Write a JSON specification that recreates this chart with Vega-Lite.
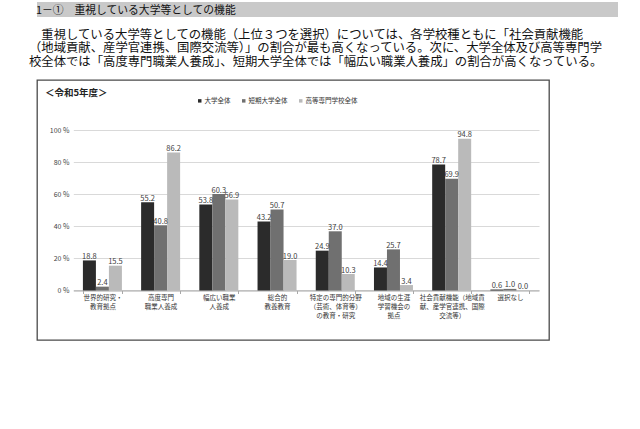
{
  "$schema": "https://vega.github.io/schema/vega-lite/v6.json",
  "padding": {"left": 29, "top": 2, "right": 4, "bottom": 4},
  "bounds": "flush",
  "spacing": 11,
  "config": {
    "font": "Noto Sans CJK JP",
    "view": {"stroke": null}
  },
  "resolve": {"scale": {"x": "independent", "y": "independent", "color": "independent"}},
  "vconcat": [
    {
      "width": 581,
      "height": 15,
      "view": {"fill": "#c9c9c9", "stroke": null},
      "data": {"values": [{"t": "1－①　重視している大学等としての機能"}]},
      "mark": {"type": "text", "align": "left", "baseline": "middle", "fontSize": 10.8, "color": "#111111", "dx": -1},
      "encoding": {
        "text": {"field": "t"},
        "x": {"datum": 0, "type": "quantitative", "scale": {"domain": [0, 1]}, "axis": null},
        "y": {"datum": 0.42, "type": "quantitative", "scale": {"domain": [0, 1]}, "axis": null}
      }
    },
    {
      "width": 575,
      "height": 40.5,
      "data": {"values": [
        {"line": 1, "t": "​　重視している大学等としての機能（上位３つを選択）については、各学校種ともに「社会貢献機能"},
        {"line": 2, "t": "（地域貢献、産学官連携、国際交流等）」の割合が最も高くなっている。次に、大学全体及び高等専門学"},
        {"line": 3, "t": "校全体では「高度専門職業人養成」、短期大学全体では「幅広い職業人養成」の割合が高くなっている。"}
      ]},
      "mark": {"type": "text", "align": "left", "baseline": "middle", "fontSize": 12.35, "color": "#111111", "dx": -8},
      "encoding": {
        "text": {"field": "t"},
        "x": {"datum": 0, "type": "quantitative", "scale": {"domain": [0, 1]}, "axis": null},
        "y": {"field": "line", "type": "ordinal", "scale": {"type": "point", "padding": 0.5}, "axis": null}
      }
    },
    {
      "width": 512,
      "height": 260,
      "view": {"stroke": "#4a4a4a", "strokeWidth": 1.3},
      "title": {"text": "＜令和5年度＞", "anchor": "start", "frame": "group", "offset": -17, "dx": 8, "fontSize": 9.5, "fontWeight": "bold", "color": "#222222"},
      "data": {"values": [
        {"cat": "世界的研究・\n教育拠点", "series": "大学全体", "value": 18.8},
        {"cat": "世界的研究・\n教育拠点", "series": "短期大学全体", "value": 2.4},
        {"cat": "世界的研究・\n教育拠点", "series": "高等専門学校全体", "value": 15.5},
        {"cat": "高度専門\n職業人養成", "series": "大学全体", "value": 55.2},
        {"cat": "高度専門\n職業人養成", "series": "短期大学全体", "value": 40.8},
        {"cat": "高度専門\n職業人養成", "series": "高等専門学校全体", "value": 86.2},
        {"cat": "幅広い職業\n人養成", "series": "大学全体", "value": 53.8},
        {"cat": "幅広い職業\n人養成", "series": "短期大学全体", "value": 60.3},
        {"cat": "幅広い職業\n人養成", "series": "高等専門学校全体", "value": 56.9},
        {"cat": "総合的\n教養教育", "series": "大学全体", "value": 43.2},
        {"cat": "総合的\n教養教育", "series": "短期大学全体", "value": 50.7},
        {"cat": "総合的\n教養教育", "series": "高等専門学校全体", "value": 19.0},
        {"cat": "特定の専門的分野\n（芸術、体育等）\nの教育・研究", "series": "大学全体", "value": 24.9},
        {"cat": "特定の専門的分野\n（芸術、体育等）\nの教育・研究", "series": "短期大学全体", "value": 37.0},
        {"cat": "特定の専門的分野\n（芸術、体育等）\nの教育・研究", "series": "高等専門学校全体", "value": 10.3},
        {"cat": "地域の生涯\n学習機会の\n拠点", "series": "大学全体", "value": 14.4},
        {"cat": "地域の生涯\n学習機会の\n拠点", "series": "短期大学全体", "value": 25.7},
        {"cat": "地域の生涯\n学習機会の\n拠点", "series": "高等専門学校全体", "value": 3.4},
        {"cat": "社会貢献機能（地域貢\n献、産学官連携、国際\n交流等）", "series": "大学全体", "value": 78.7},
        {"cat": "社会貢献機能（地域貢\n献、産学官連携、国際\n交流等）", "series": "短期大学全体", "value": 69.9},
        {"cat": "社会貢献機能（地域貢\n献、産学官連携、国際\n交流等）", "series": "高等専門学校全体", "value": 94.8},
        {"cat": "選択なし", "series": "大学全体", "value": 0.6},
        {"cat": "選択なし", "series": "短期大学全体", "value": 1.0},
        {"cat": "選択なし", "series": "高等専門学校全体", "value": 0.0}
      ]},
      "encoding": {
        "x": {
          "field": "cat", "type": "nominal", "sort": null,
          "scale": {"range": [36.3, 502], "paddingInner": 0.33, "paddingOuter": 0.165},
          "axis": {
            "orient": "bottom", "offset": -49.5, "title": null, "labelAngle": 0,
            "labelExpr": "split(datum.label, '\\n')",
            "labelFontSize": 6.5, "labelLineHeight": 9, "labelColor": "#333333",
            "labelPadding": 1, "labelLimit": 300, "labelOverlap": false, "labelBound": false,
            "domainColor": "#a8a8a8", "domainWidth": 1,
            "tickColor": "#a8a8a8", "tickSize": 3, "tickBand": "extent", "grid": false
          }
        },
        "y": {
          "field": "value", "type": "quantitative",
          "scale": {"domain": [-30.94, 131.56], "nice": false, "zero": false},
          "axis": {
            "orient": "left", "offset": -36, "title": null,
            "values": [0, 20, 40, 60, 80, 100],
            "labelExpr": "datum.value + ' %'",
            "labelFontSize": 7, "labelColor": "#444444", "labelPadding": 4,
            "ticks": false, "tickSize": 0, "domain": false,
            "grid": true, "gridColor": "#d9d9d9", "gridWidth": 1
          }
        }
      },
      "layer": [
        {
          "mark": {"type": "bar"},
          "encoding": {
            "y2": {"datum": 0},
            "xOffset": {"field": "series", "type": "nominal", "sort": ["大学全体", "短期大学全体", "高等専門学校全体"], "scale": {"paddingInner": 0, "paddingOuter": 0}},
            "color": {
              "field": "series", "type": "nominal",
              "scale": {"domain": ["大学全体", "短期大学全体", "高等専門学校全体"], "range": ["#2b2b2b", "#707070", "#bababa"]},
              "legend": {
                "orient": "none", "legendX": 159.5, "legendY": 17.5, "direction": "horizontal",
                "title": null, "symbolType": "square", "symbolSize": 12, "symbolStrokeWidth": 0,
                "labelFontSize": 6.5, "labelColor": "#333333", "labelOffset": 1.5, "columnPadding": 10, "padding": 0
              }
            }
          }
        },
        {
          "mark": {"type": "text", "baseline": "alphabetic", "dy": -1.5, "fontSize": 7.5, "color": "#404040"},
          "encoding": {
            "xOffset": {"field": "series", "type": "nominal", "sort": ["大学全体", "短期大学全体", "高等専門学校全体"], "scale": {"paddingInner": 0, "paddingOuter": 0}},
            "text": {"field": "value", "type": "quantitative", "format": ".1f"}
          }
        },
        {
          "data": {"values": [{"t": "（上位3つを選択）"}]},
          "mark": {"type": "text", "baseline": "middle", "fontSize": 6.5, "color": "#333333", "dx": -4},
          "encoding": {
            "x": {"datum": "選択なし"},
            "y": {"datum": -22.9},
            "text": {"field": "t"}
          }
        },
        {
          "data": {"values": [{"t": "【図1－①】"}]},
          "mark": {"type": "text", "baseline": "middle", "fontSize": 9, "color": "#222222", "dx": 69},
          "encoding": {
            "x": {"datum": "選択なし"},
            "y": {"datum": -26},
            "text": {"field": "t"}
          }
        }
      ]
    }
  ]
}
